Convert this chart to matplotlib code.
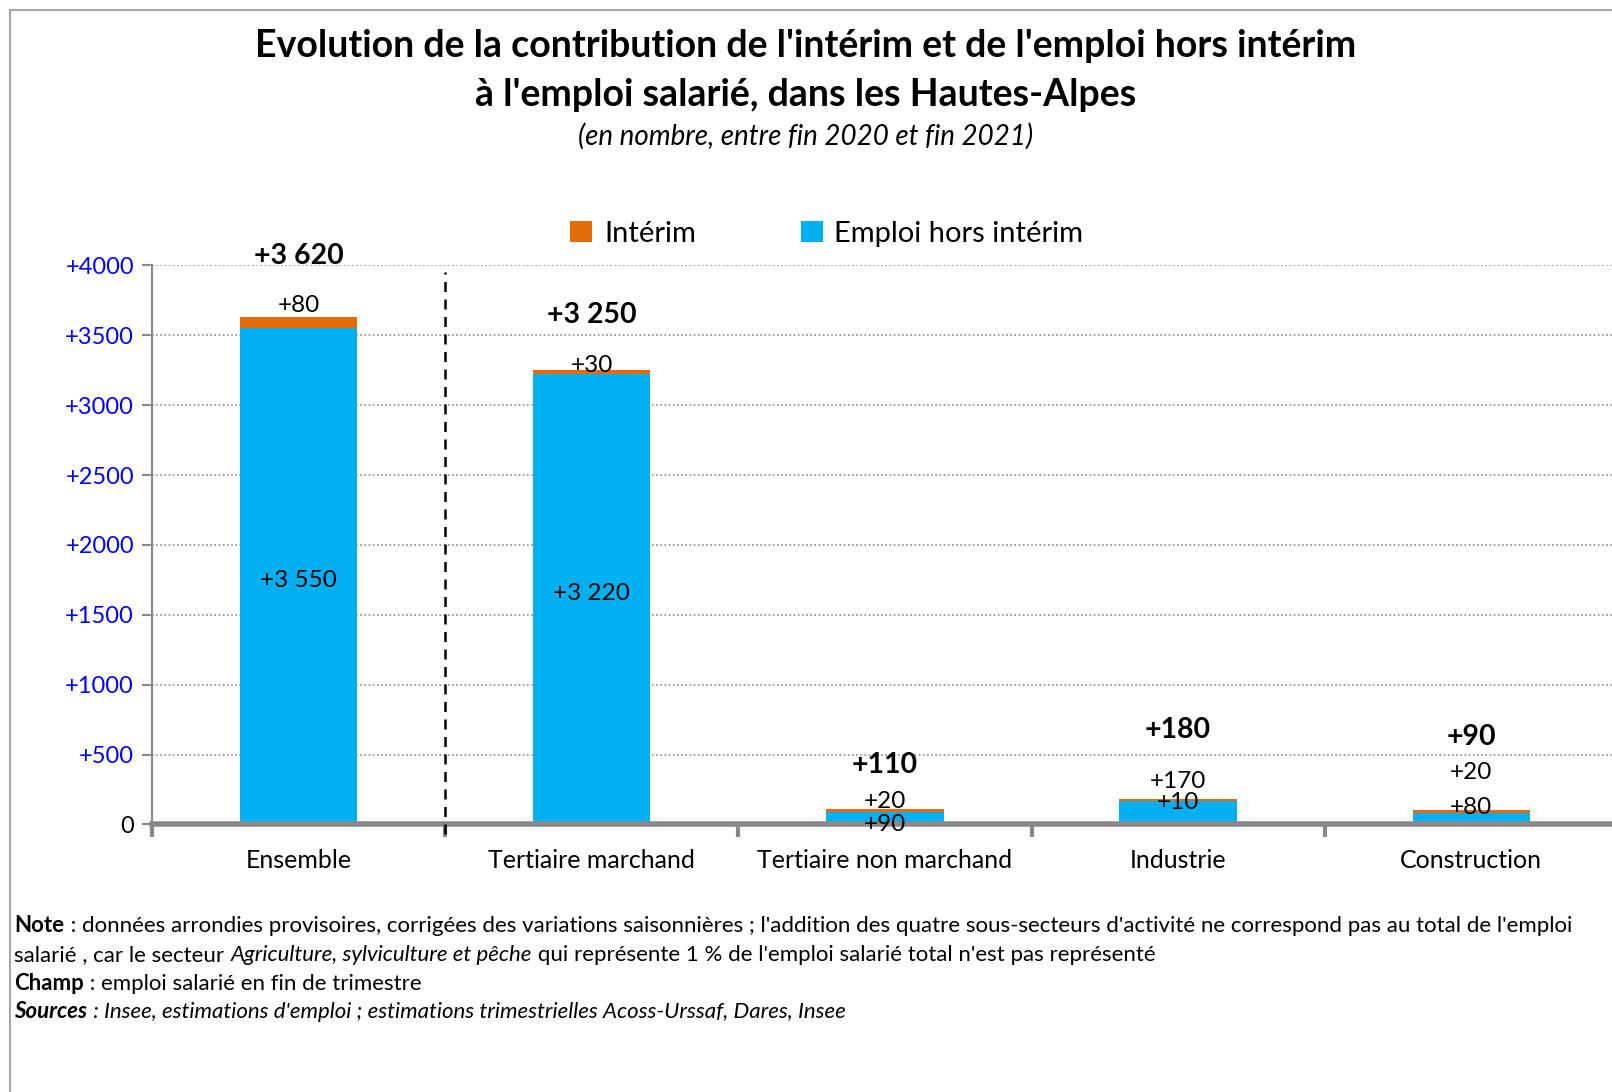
import numpy as np
import matplotlib.pyplot as plt
from matplotlib.patches import Rectangle

plt.rcParams['font.family'] = ['Lato', 'DejaVu Sans']

# Data
categories = ['Ensemble', 'Tertiaire marchand', 'Tertiaire non marchand', 'Industrie', 'Construction']
emploi = [3550, 3220, 90, 170, 80]
interim = [80, 30, 20, 10, 20]
totals = [3620, 3250, 110, 180, 90]
yticks = [0, 500, 1000, 1500, 2000, 2500, 3000, 3500, 4000]

# Label placement (offsets in data units, as placed by hand in the source)
total_off = [435, 397, 317, 497, 527]
interim_off = [85, 36, 53, -25, 270]
emploi_lbl_y = [1743, 1649, -2, 305, 120]

ORANGE = '#E46C0A'
BLUE = '#00B0F0'
GRAY = '#898989'


def fmt(v):
    s = f"{v:,}".replace(",", " ")
    return "+" + s


fig = plt.figure(figsize=(16.12, 10.92), dpi=100)
ax = fig.add_axes([0.0943, 0.245, 0.9057, 0.512])

x = np.arange(len(categories))
width = 0.4
ax.bar(x, emploi, width, color=BLUE, zorder=3, label='Emploi hors intérim')
ax.bar(x, interim, width, bottom=emploi, color=ORANGE, zorder=3, label='Intérim')

ax.set_xlim(-0.5, 4.48)
ax.set_ylim(0, 4000)
ax.set_yticks(yticks)
ax.set_yticklabels([("+%d" % t) if t else "0" for t in yticks], fontsize=17)
for lbl, t in zip(ax.get_yticklabels(), yticks):
    lbl.set_color('#0000FF' if t else 'black')
ax.yaxis.grid(True, linestyle=(0, (1, 1.5)), color='#8c8c8c', linewidth=1.2, zorder=0)

ax.set_xticks(np.arange(-0.5, 4.5, 1.0))
ax.set_xticklabels([])
ax.set_xticks(x, minor=True)
ax.set_xticklabels(categories, minor=True, fontsize=18)
ax.tick_params(axis='x', which='minor', length=0, pad=18)
ax.tick_params(axis='x', which='major', length=9, width=3, color=GRAY)
ax.tick_params(axis='y', length=7, width=1.5, color=GRAY, pad=6)

for s in ['top', 'right']:
    ax.spines[s].set_visible(False)
ax.spines['left'].set_color(GRAY)
ax.spines['left'].set_linewidth(1.5)
ax.spines['bottom'].set_color(GRAY)
ax.spines['bottom'].set_linewidth(4)
ax.spines['bottom'].set_zorder(4)

# separator between Ensemble and sectors
ax.plot([0.5, 0.5], [-65, 3950], color='black', linestyle=(0, (4, 3)), linewidth=1.8,
        clip_on=False, zorder=5)

# value labels
for i in range(len(categories)):
    top = emploi[i] + interim[i]
    ax.text(x[i], top + total_off[i], fmt(totals[i]), ha='center', va='center',
            fontsize=20.5, fontweight='bold', zorder=6, clip_on=False)
    ax.text(x[i], top + interim_off[i], fmt(interim[i]), ha='center', va='center',
            fontsize=17.5, zorder=6, clip_on=False)
    ax.text(x[i], emploi_lbl_y[i], fmt(emploi[i]), ha='center', va='center',
            fontsize=17.5, zorder=6, clip_on=False)

# legend
h, l = ax.get_legend_handles_labels()
fig.legend(h[::-1], l[::-1], loc='center', bbox_to_anchor=(0.513, 0.786), ncol=2,
           frameon=False, fontsize=21, handlelength=0.75, handleheight=0.75,
           handletextpad=0.4, columnspacing=3.6)

# titles
fig.text(0.5, 1 - 46 / 1092, "Evolution de la contribution de l'intérim et de l'emploi hors intérim",
         ha='center', va='center', fontsize=27, fontweight='bold')
fig.text(0.5, 1 - 95 / 1092, "à l'emploi salarié, dans les Hautes-Alpes",
         ha='center', va='center', fontsize=27, fontweight='bold')
fig.text(0.5, 1 - 136 / 1092, "(en nombre, entre fin 2020 et fin 2021)",
         ha='center', va='center', fontsize=20, style='italic')

# frame of the original picture
fig.patches.append(Rectangle((10 / 1612, -0.1), 1.2, 1 - 10 / 1092 + 0.1,
                             transform=fig.transFigure, fill=False,
                             edgecolor='#a6a6a6', linewidth=1.5))

# footnotes with mixed styles
renderer = fig.canvas.get_renderer()


def rich_line(y, parts, size=16):
    xpos = 14.5 / 1612
    for txt, kw in parts:
        t = fig.text(xpos, y, txt, fontsize=size, va='center', ha='left', **kw)
        bb = t.get_window_extent(renderer=renderer)
        xpos += bb.width / fig.bbox.width


rich_line(1 - 926 / 1092, [("Note", {'fontweight': 'bold'}),
                           (" : données arrondies provisoires, corrigées des variations saisonnières ; "
                            "l'addition des quatre sous-secteurs d'activité ne correspond pas au total de l'emploi", {})])
rich_line(1 - 955 / 1092, [("salarié , car le secteur ", {}),
                           ("Agriculture, sylviculture et pêche", {'style': 'italic'}),
                           (" qui représente 1 % de l'emploi salarié total n'est pas représenté", {})])
rich_line(1 - 984 / 1092, [("Champ", {'fontweight': 'bold'}),
                           (" : emploi salarié en fin de trimestre", {})])
rich_line(1 - 1012 / 1092, [("Sources", {'fontweight': 'bold', 'style': 'italic'}),
                            (" : Insee, estimations d'emploi ; estimations trimestrielles Acoss-Urssaf, Dares, Insee",
                             {'style': 'italic'})])

fig.savefig('out.png', dpi=100)
